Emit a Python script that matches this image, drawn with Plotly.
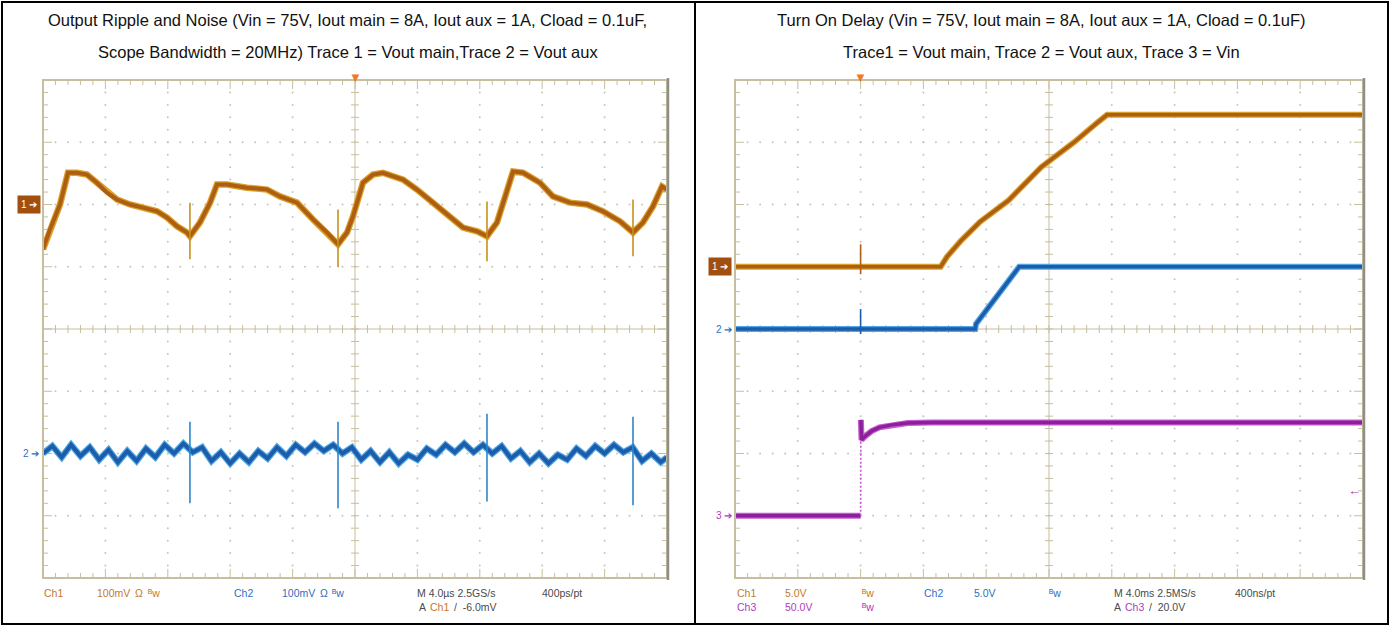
import plotly.graph_objects as go

W, H = 1390, 626

# ---------------- DATA ----------------
# Left scope: Output ripple & noise. Time in microseconds, values in mV.
rip_t = [-20.0, -19.55, -18.91, -18.40, -17.82, -17.18, -16.54, -15.90, -15.26, -14.42,
         -13.59, -12.69, -12.05, -11.41, -10.77, -10.58, -9.94, -9.29, -8.85, -8.21,
         -6.92, -5.64, -4.81, -3.72, -2.69, -1.79, -1.09, -0.51, -0.13, 0.51,
         1.15, 1.79, 3.08, 3.97, 5.00, 6.09, 6.92, 7.82, 8.46, 9.10,
         9.74, 10.13, 10.77, 11.86, 12.69, 13.78, 14.87, 15.90, 16.99, 17.82,
         18.46, 19.10, 19.68, 20.0]
rip_ch1_mv = [-72, -40, 0, 51, 51, 48, 35, 19, 8, 0,
              -5, -11, -21, -35, -45, -51, -29, 3, 32, 32,
              27, 24, 13, 3, -24, -45, -64, -45, -19, 35,
              48, 51, 40, 24, 3, -19, -37, -43, -51, -29,
              24, 53, 51, 35, 13, 3, 0, -11, -27, -45,
              -29, -3, 29, 24]

rip_ch2_t = [-20.0, -19.4, -18.8, -18.2, -17.6, -17.0, -16.4, -15.8, -15.2, -14.6,
             -14.0, -13.4, -12.8, -12.2, -11.6, -11.0, -10.4, -9.8, -9.2, -8.6,
             -8.0, -7.4, -6.8, -6.2, -5.6, -5.0, -4.4, -3.8, -3.2, -2.6,
             -2.0, -1.4, -0.8, -0.2, 0.4, 1.0, 1.6, 2.2, 2.8, 3.4,
             4.0, 4.6, 5.2, 5.8, 6.4, 7.0, 7.6, 8.2, 8.8, 9.4,
             10.0, 10.6, 11.2, 11.8, 12.4, 13.0, 13.6, 14.2, 14.8, 15.4,
             16.0, 16.6, 17.2, 17.8, 18.4, 19.0, 19.6, 20.0]
rip_ch2_mv = [0, 12, -6, 14, -4, 10, -10, 6, -14, 4,
              -12, 8, -6, 14, 0, 16, 2, 10, -12, 2,
              -16, 0, -14, 4, -8, 10, -4, 14, 2, 16,
              4, 14, 0, 10, -10, 4, -14, 2, -16, -2,
              -10, 8, -2, 14, 2, 16, 2, 14, 0, 12,
              -8, 4, -14, 0, -16, -2, -10, 8, -4, 12,
              0, 14, 2, 10, -12, 0, -14, -6]

# switching spikes (time, high, low)
rip_spike_t = [-10.58, -1.09, 8.46, 17.82]
rip_ch1_spike_hi = [3, -8, 5, 8]
rip_ch1_spike_lo = [-88, -101, -91, -83]
rip_ch2_spike_hi = [51, 51, 64, 59]
rip_ch2_spike_lo = [-80, -88, -77, -83]

# Right scope: Turn-on delay. Time in ms, values in V.
ton_ch1_t = [-8.0, 5.1, 5.5, 6.4, 7.6, 9.4, 11.5, 13.6, 15.1, 15.7, 17.8, 32.0]
ton_ch1_v = [0.0, 0.0, 0.8, 2.1, 3.6, 5.3, 8.0, 10.0, 11.6, 12.2, 12.2, 12.2]
ton_ch2_t = [-8.0, 7.3, 7.35, 10.1, 32.0]
ton_ch2_v = [0.0, 0.0, 0.4, 5.0, 5.0]
ton_ch3_t = [-8.0, 0.0, 0.02, 0.06, 0.3, 0.7, 1.2, 2.0, 3.0, 4.5, 32.0]
ton_ch3_v = [0.0, 0.0, 77.0, 61.0, 64.0, 68.0, 71.0, 73.0, 74.5, 75.0, 75.0]
ton_spike_t = [0.0]
ton_ch1_spike_hi = [1.8]
ton_ch1_spike_lo = [-0.6]
ton_ch2_spike_hi = [1.6]
ton_ch2_spike_lo = [-0.4]

# channel settings: (volts per div, ground position in divisions)
L_CH1 = (100.0, 2.0)
L_CH2 = (100.0, -2.0)
R_CH1 = (5.0, 1.0)
R_CH2 = (5.0, 0.0)
R_CH3 = (50.0, -3.0)

# ---------------- LAYOUT GEOMETRY ----------------
TOP, BOT = 80, 578
LX0, LX1 = 43, 667
RX0, RX1 = 735, 1363
PX_DIV_Y = (BOT - TOP) / 8.0

def px(x):
    return x / W

def py(y):
    return 1 - y / H

ORANGE = "#ad5e12"
ORANGE_HI = "#d9a02a"
BLUE = "#1c5cab"
BLUE_HI = "#4ea6e2"
PURPLE = "#8c1f9c"
PURPLE_HI = "#c45acd"
TAN = "#c6be9e"
DOT = "#c4c4c4"

fig = go.Figure()


def graticule(xa, ya, x0, x1, pxw):
    xd = (x1 - x0) / 10.0
    pxx = (pxw / 10.0) / xd
    dx, dy = [], []
    for i in range(1, 10):
        if i == 5:
            continue
        for k in range(1, 40):
            dx.append(x0 + i * xd)
            dy.append(-4 + k * 0.2)
    for j in range(1, 8):
        if j == 4:
            continue
        for k in range(1, 50):
            dx.append(x0 + k * xd / 5)
            dy.append(-4 + j)
    fig.add_trace(go.Scatter(x=dx, y=dy, mode="markers", xaxis=xa, yaxis=ya,
                             marker=dict(size=2, color=DOT), hoverinfo="skip"))
    sx, sy = [], []
    xc = x0 + 5 * xd
    # centre lines
    sx += [xc, xc, None, x0, x1, None]
    sy += [-4, 4, None, 0, 0, None]
    # ticks on centre lines
    for k in range(1, 40):
        yv = -4 + k * 0.2
        h = 4 / pxx
        sx += [xc - h, xc + h, None]
        sy += [yv, yv, None]
    for k in range(1, 50):
        xv = x0 + k * xd / 5
        h = 4 / PX_DIV_Y
        sx += [xv, xv, None]
        sy += [-h, h, None]
    # border ticks
    for k in range(1, 40):
        yv = -4 + k * 0.2
        L = (9 if k % 5 == 0 else 5) / pxx
        sx += [x0, x0 + L, None, x1, x1 - L, None]
        sy += [yv, yv, None, yv, yv, None]
    for k in range(1, 50):
        xv = x0 + k * xd / 5
        L = (9 if k % 5 == 0 else 5) / PX_DIV_Y
        sx += [xv, xv, None, xv, xv, None]
        sy += [4, 4 - L, None, -4, -4 + L, None]
    fig.add_trace(go.Scatter(x=sx, y=sy, mode="lines", xaxis=xa, yaxis=ya,
                             line=dict(color=TAN, width=1), hoverinfo="skip"))


graticule("x", "y", -20, 20, LX1 - LX0)
graticule("x2", "y2", -8, 32, RX1 - RX0)


def trace(xa, ya, t, v, ch, hi, core, w=6.5):
    scale, pos = ch
    yy = [pos + a / scale for a in v]
    fig.add_trace(go.Scatter(x=t, y=yy, mode="lines", xaxis=xa, yaxis=ya,
                             line=dict(color=hi, width=w), hoverinfo="skip"))
    fig.add_trace(go.Scatter(x=t, y=yy, mode="lines", xaxis=xa, yaxis=ya,
                             line=dict(color=core, width=w - 2.5), hoverinfo="skip"))


def spikes(xa, ya, t, hi_v, lo_v, ch, color):
    scale, pos = ch
    sx, sy = [], []
    for a, h, l in zip(t, hi_v, lo_v):
        sx += [a, a, None]
        sy += [pos + l / scale, pos + h / scale, None]
    fig.add_trace(go.Scatter(x=sx, y=sy, mode="lines", xaxis=xa, yaxis=ya,
                             line=dict(color=color, width=1.6), hoverinfo="skip"))


# left scope traces
trace("x", "y", rip_t, rip_ch1_mv, L_CH1, ORANGE_HI, ORANGE)
spikes("x", "y", rip_spike_t, rip_ch1_spike_hi, rip_ch1_spike_lo, L_CH1, "#c8901e")
trace("x", "y", rip_ch2_t, rip_ch2_mv, L_CH2, BLUE_HI, BLUE)
spikes("x", "y", rip_spike_t, rip_ch2_spike_hi, rip_ch2_spike_lo, L_CH2, "#2f86c8")

# right scope traces
trace("x2", "y2", ton_ch1_t, ton_ch1_v, R_CH1, ORANGE_HI, ORANGE, 6)
spikes("x2", "y2", ton_spike_t, ton_ch1_spike_hi, ton_ch1_spike_lo, R_CH1, ORANGE)
trace("x2", "y2", ton_ch2_t, ton_ch2_v, R_CH2, BLUE_HI, BLUE, 6)
spikes("x2", "y2", ton_spike_t, ton_ch2_spike_hi, ton_ch2_spike_lo, R_CH2, BLUE)
trace("x2", "y2", ton_ch3_t[:2], ton_ch3_v[:2], R_CH3, PURPLE_HI, PURPLE, 6)
fig.add_trace(go.Scatter(x=ton_ch3_t[1:3], y=[R_CH3[1] + a / R_CH3[0] for a in ton_ch3_v[1:3]],
                         mode="lines", xaxis="x2", yaxis="y2",
                         line=dict(color=PURPLE_HI, width=1.6, dash="2px,2px"), hoverinfo="skip"))
trace("x2", "y2", ton_ch3_t[2:], ton_ch3_v[2:], R_CH3, PURPLE_HI, PURPLE, 6)

ax = dict(visible=False, fixedrange=True)
fig.update_layout(
    width=W, height=H, margin=dict(l=0, r=0, t=0, b=0),
    paper_bgcolor="white", plot_bgcolor="white", showlegend=False,
    xaxis=dict(domain=[px(LX0), px(LX1)], range=[-20, 20], **ax),
    yaxis=dict(domain=[py(BOT), py(TOP)], range=[-4, 4], **ax),
    xaxis2=dict(domain=[px(RX0), px(RX1)], range=[-8, 32], anchor="y2", **ax),
    yaxis2=dict(domain=[py(BOT), py(TOP)], range=[-4, 4], anchor="x2", **ax),
)

shapes = []
# graticule frames
for x0, x1 in ((LX0, LX1), (RX0, RX1)):
    shapes.append(dict(type="rect", xref="paper", yref="paper", x0=px(x0), x1=px(x1),
                       y0=py(BOT), y1=py(TOP), line=dict(color=TAN, width=2)))
    shapes.append(dict(type="line", xref="paper", yref="paper", x0=px(x1 + 1), x1=px(x1 + 1),
                       y0=py(BOT + 2), y1=py(TOP - 2), line=dict(color="#8f8f88", width=2.5)))
# outer border and divider
shapes.append(dict(type="rect", xref="paper", yref="paper", x0=px(2), x1=px(1388),
                   y0=py(624), y1=py(2), line=dict(color="black", width=2)))
shapes.append(dict(type="line", xref="paper", yref="paper", x0=px(695), x1=px(695),
                   y0=py(624), y1=py(2), line=dict(color="black", width=2)))
fig.update_layout(shapes=shapes)

TITLE_FONT = "Liberation Sans Narrow, Arial Narrow, Liberation Sans, Arial, sans-serif"
LBL_FONT = "Liberation Sans, Arial, sans-serif"
ann = []


def text(x, y, s, color="#222", size=16, font=TITLE_FONT, xanchor="center", **kw):
    ann.append(dict(x=px(x), y=py(y), xref="paper", yref="paper", text=s, showarrow=False,
                    xanchor=xanchor, yanchor="middle",
                    font=dict(family=font, size=size, color=color), **kw))


text(348, 20, "Output Ripple and Noise (Vin = 75V, Iout main = 8A, Iout aux = 1A, Cload = 0.1uF,", "#111", 16.5)
text(348, 52, "Scope Bandwidth = 20MHz) Trace 1 = Vout main,Trace 2 = Vout aux", "#111", 16.5)
text(1041, 20, "Turn On Delay (Vin = 75V, Iout main = 8A, Iout aux = 1A, Cload = 0.1uF)", "#111", 16.5)
text(1041, 52, "Trace1 = Vout main, Trace 2 = Vout aux, Trace 3 = Vin", "#111", 16.5)

LO = "#c27a30"
LB = "#2f6fc0"
LM = "#b03cb8"
GR = "#4a4a4a"
R1, R2 = 593, 607

def lbl(x, y, s, c):
    text(x, y, s, c, 10.5, LBL_FONT, "left")

# left scope readout
lbl(42, R1, "Ch1", LO); lbl(95, R1, "100mV", LO); lbl(133, R1, "Ω", LO); lbl(146, R1, "ᴮw", LO)
lbl(232, R1, "Ch2", LB); lbl(280, R1, "100mV", LB); lbl(318, R1, "Ω", LB); lbl(330, R1, "ᴮw", LB)
lbl(415, R1, "M 4.0µs 2.5GS/s", GR); lbl(540, R1, "400ps/pt", GR)
lbl(417, R2, "A", GR); lbl(428, R2, "Ch1", LO); lbl(452, R2, "/  -6.0mV", GR)
# right scope readout
lbl(735, R1, "Ch1", LO); lbl(783, R1, "5.0V", LO); lbl(860, R1, "ᴮw", LO)
lbl(922, R1, "Ch2", LB); lbl(972, R1, "5.0V", LB); lbl(1047, R1, "ᴮw", LB)
lbl(1112, R1, "M 4.0ms 2.5MS/s", GR); lbl(1233, R1, "400ns/pt", GR)
lbl(735, R2, "Ch3", LM); lbl(783, R2, "50.0V", LM); lbl(860, R2, "ᴮw", LM)
lbl(1112, R2, "A", GR); lbl(1123, R2, "Ch3", LM); lbl(1147, R2, "/  20.0V", GR)

# channel ground markers
gy = lambda pos: (TOP + BOT) / 2 - pos * PX_DIV_Y
text(29, gy(L_CH1[1]), "1 ➔", "white", 10, LBL_FONT, bgcolor="#a24e0e", borderpad=3)
text(31, gy(L_CH2[1]), "2 ➔", LB, 10, LBL_FONT)
text(720, gy(R_CH1[1]), "1 ➔", "white", 10, LBL_FONT, bgcolor="#a24e0e", borderpad=3)
text(724, gy(R_CH2[1]), "2 ➔", LB, 10, LBL_FONT)
text(724, gy(R_CH3[1]), "3 ➔", LM, 10, LBL_FONT)
# trigger position markers and level
text(355, TOP - 2, "▼", "#f07828", 13, LBL_FONT)
text(860, TOP - 2, "▼", "#f07828", 13, LBL_FONT)
text(1354, gy(R_CH3[1]) - 20.0 / R_CH3[0] * PX_DIV_Y, "←", LM, 13, LBL_FONT)

fig.update_layout(annotations=ann)
fig.write_html("out.html", config={"displayModeBar": False},
               post_script="document.body.style.margin='0px';document.body.style.padding='0px';")
